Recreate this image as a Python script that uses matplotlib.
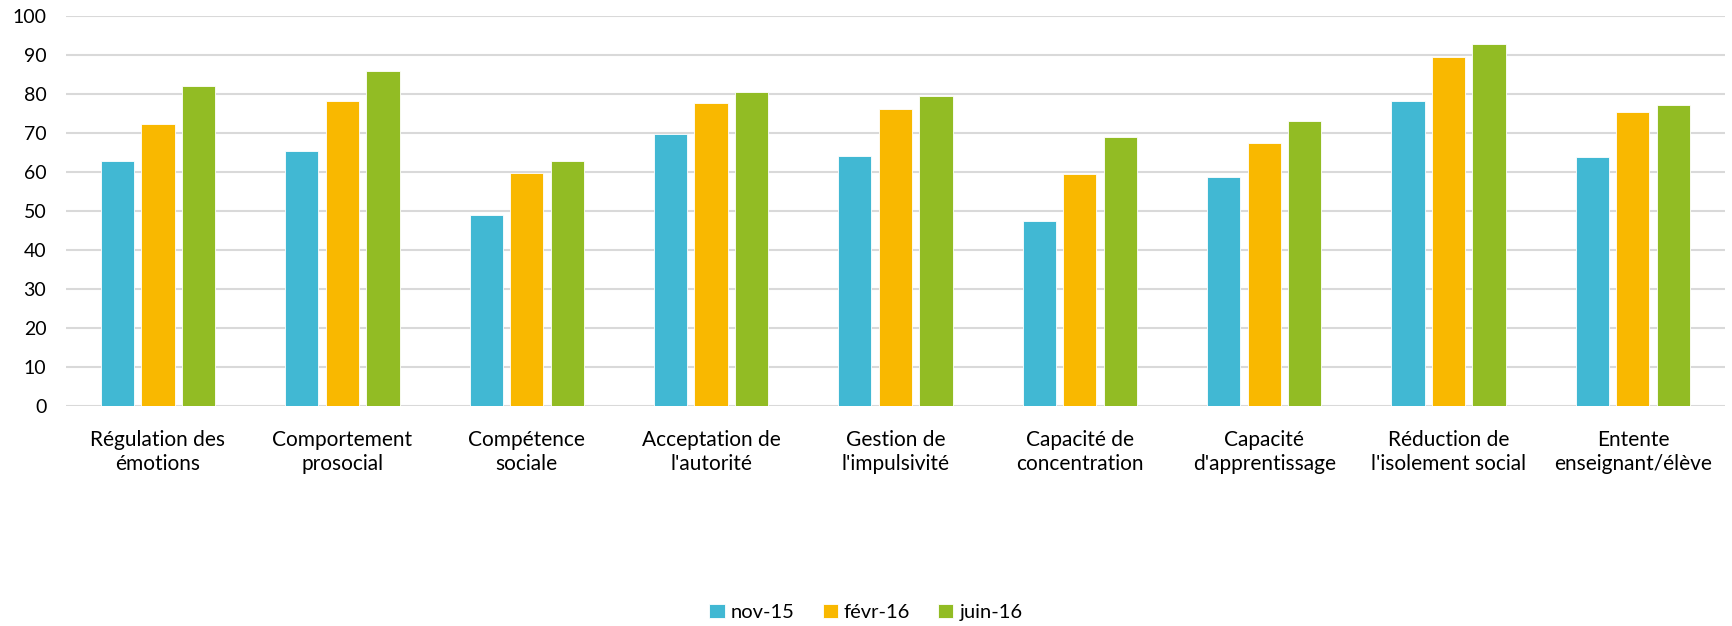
import matplotlib.pyplot as plt
import numpy as np

plt.rcParams['font.family'] = ['Lato', 'DejaVu Sans']

categories = ["Régulation des\némotions", "Comportement\nprosocial", "Compétence\nsociale",
              "Acceptation de\nl'autorité", "Gestion de\nl'impulsivité", "Capacité de\nconcentration",
              "Capacité\nd'apprentissage", "Réduction de\nl'isolement social", "Entente\nenseignant/élève"]
series = ["nov-15", "févr-16", "juin-16"]
nov15 = [62.8, 65.5, 49.1, 69.9, 64.2, 47.6, 58.9, 78.3, 63.8]
fevr16 = [72.4, 78.3, 59.7, 77.8, 76.1, 59.6, 67.6, 89.5, 75.5]
juin16 = [82.0, 86.0, 62.8, 80.6, 79.5, 69.0, 73.2, 92.9, 77.3]
colors = ["#41b8d3", "#f9b800", "#92bc24"]

fig = plt.figure(figsize=(17.32, 6.26), dpi=100)
ax = fig.add_axes([0.038, 0.351, 0.958, 0.623])

x = np.arange(len(categories))
width = 0.18
step = 0.22
for i, (name, vals) in enumerate(zip(series, [nov15, fevr16, juin16])):
    ax.bar(x + (i - 1) * step, vals, width, color=colors[i], label=name,
           edgecolor="white", linewidth=0.6, zorder=3)

ax.set_xlim(-0.5, len(categories) - 0.5)
ax.set_ylim(0, 100)
ax.set_yticks(range(0, 101, 10))
ax.yaxis.grid(True, color="#d9d9d9", linewidth=1.5, zorder=0)
ax.set_axisbelow(True)
for s in ax.spines.values():
    s.set_visible(False)
ax.tick_params(axis="both", length=0, colors="#000000")
ax.tick_params(axis="x", pad=17, labelsize=15)
ax.tick_params(axis="y", pad=14, labelsize=14)
ax.set_xticks(x)
ax.set_xticklabels(categories, linespacing=1.25)

fig.legend(loc="center", bbox_to_anchor=(0.5, 0.022), ncol=3, frameon=False,
           fontsize=14.5, handlelength=0.75, handleheight=0.75, handletextpad=0.3,
           columnspacing=1.4)

fig.savefig("out.png", dpi=100)
